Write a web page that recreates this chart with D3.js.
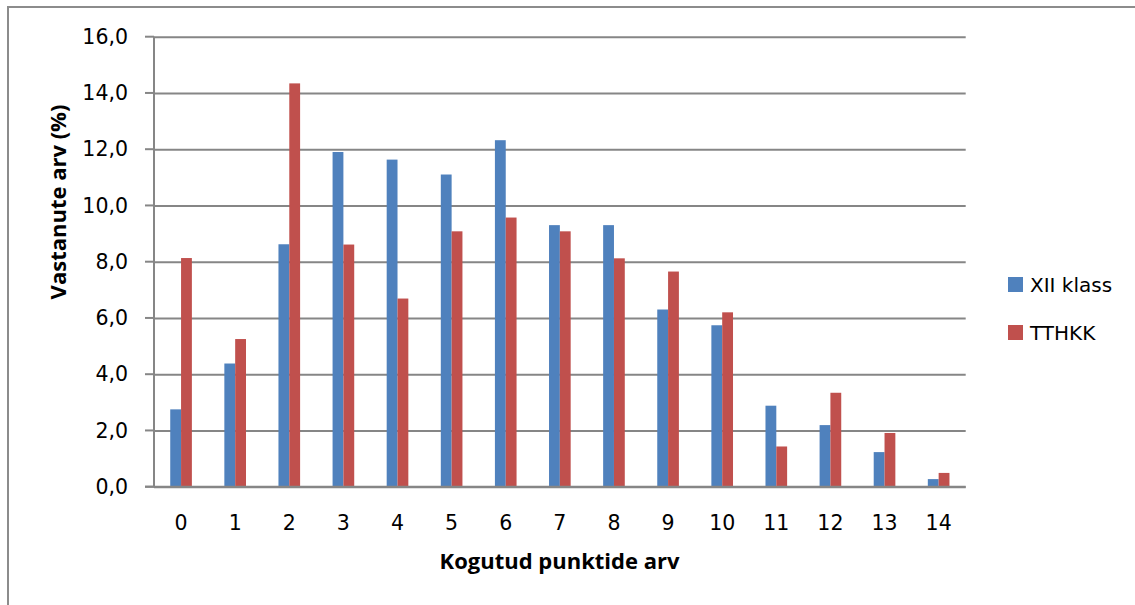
<!DOCTYPE html>
<html>
<head>
<meta charset="utf-8">
<script src="https://cdn.jsdelivr.net/npm/d3@7"></script>
<style>
  body { margin: 0; background: #fff; }
  text { font-family: "DejaVu Sans", sans-serif; fill: #000; }
  .title { font-family: "Open Sans", sans-serif; font-weight: bold; font-size: 22px; }
</style>
</head>
<body>
<svg id="chart" width="1135" height="605"></svg>
<script>
// points collected (x categories)
const categories = ["0", "1", "2", "3", "4", "5", "6", "7", "8", "9", "10", "11", "12", "13", "14"];
const seriesNames = ["XII klass", "TTHKK"];
const xiiKlass = [2.75, 4.38, 8.62, 11.9, 11.63, 11.1, 12.32, 9.3, 9.3, 6.3, 5.74, 2.88, 2.19, 1.23, 0.27];
const tthkk = [8.13, 5.25, 14.34, 8.61, 6.69, 9.08, 9.57, 9.08, 8.12, 7.65, 6.2, 1.43, 3.34, 1.91, 0.49];
const yTicks = [0, 2, 4, 6, 8, 10, 12, 14, 16];
const colors = ["#4F81BD", "#C0504D"];

const svg = d3.select("#chart");
const plot = { left: 154, right: 965.7, top: 36.7, bottom: 486.7 };

// outer frame (only left and top visible in the picture)
svg.append("path")
  .attr("d", "M8,605V7H1135")
  .attr("fill", "none")
  .attr("stroke", "#8c8c8c")
  .attr("stroke-width", 2);

const y = d3.scaleLinear().domain([0, 16]).range([plot.bottom, plot.top]);
const x = d3.scaleBand().domain(categories).range([plot.left, plot.right])
  .paddingInner(0.6).paddingOuter(0.3);
const x1 = d3.scaleBand().domain(seriesNames).range([0, x.bandwidth()]);

const fmt = (v) => d3.format(".1f")(v).replace(".", ",");

// gridlines + y axis
const yAxis = d3.axisLeft(y).tickValues(yTicks).tickFormat(fmt)
  .tickSize(-(plot.right - plot.left));
const gy = svg.append("g").attr("transform", `translate(${plot.left},0)`).call(yAxis);
gy.select(".domain").remove();
gy.selectAll(".tick line").attr("stroke", "#868686").attr("stroke-width", 2);
gy.selectAll(".tick text")
  .attr("x", -26)
  .attr("fill", "#000")
  .style("font-family", "'DejaVu Sans', sans-serif")
  .style("font-size", "20.5px");

// little tick marks on the left of the axis
svg.append("g").selectAll("line").data(yTicks).join("line")
  .attr("x1", plot.left - 9).attr("x2", plot.left)
  .attr("y1", (d) => y(d)).attr("y2", (d) => y(d))
  .attr("stroke", "#868686").attr("stroke-width", 2);

svg.append("line")
  .attr("x1", plot.left).attr("x2", plot.left).attr("y1", plot.top).attr("y2", plot.bottom)
  .attr("stroke", "#868686").attr("stroke-width", 2);

// bars
const rows = categories.map((c, i) => ({ cat: c, vals: [xiiKlass[i], tthkk[i]] }));
const grp = svg.append("g").selectAll("g").data(rows).join("g")
  .attr("transform", (d) => `translate(${x(d.cat)},0)`);
grp.selectAll("rect")
  .data((d) => d.vals.map((v, k) => ({ name: seriesNames[k], v: v, k: k })))
  .join("rect")
  .attr("x", (d) => x1(d.name))
  .attr("y", (d) => y(d.v))
  .attr("width", x1.bandwidth())
  .attr("height", (d) => y(0) - y(d.v))
  .attr("fill", (d) => colors[d.k]);

// x axis baseline
svg.append("line")
  .attr("x1", plot.left - 9).attr("x2", plot.right).attr("y1", plot.bottom).attr("y2", plot.bottom)
  .attr("stroke", "#868686").attr("stroke-width", 2);

svg.append("g").selectAll("text").data(categories).join("text")
  .attr("x", (d) => x(d) + x.bandwidth() / 2)
  .attr("y", 530)
  .attr("text-anchor", "middle")
  .attr("font-size", 20.5)
  .text((d) => d);

// axis titles
svg.append("text").attr("class", "title")
  .attr("x", 559.5).attr("y", 569)
  .attr("text-anchor", "middle")
  .text("Kogutud punktide arv");

svg.append("text").attr("class", "title")
  .attr("transform", "translate(66,202) rotate(-90)")
  .attr("text-anchor", "middle")
  .text("Vastanute arv (%)");

// legend
const legend = svg.append("g").selectAll("g").data(seriesNames).join("g")
  .attr("transform", (d, i) => `translate(1008,${277 + i * 48})`);
legend.append("rect").attr("width", 15).attr("height", 15)
  .attr("fill", (d, i) => colors[i]);
legend.append("text").attr("x", 22).attr("y", 15)
  .attr("font-size", 20).text((d) => d);
</script>
</body>
</html>
